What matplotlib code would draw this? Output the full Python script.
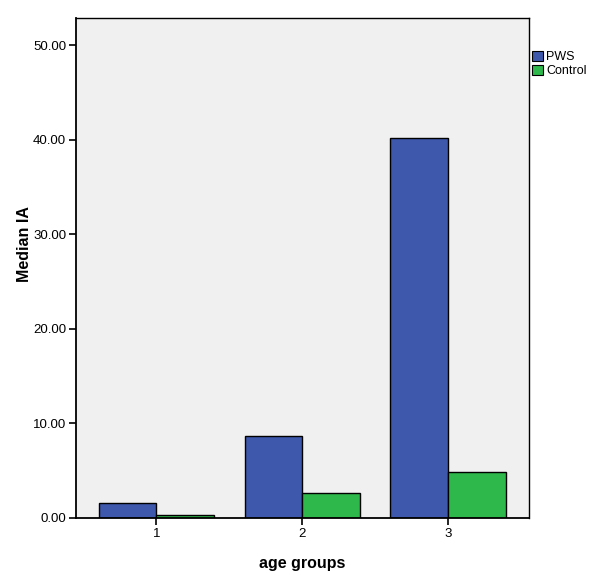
import numpy as np
import matplotlib.pyplot as plt
from matplotlib.patches import Patch

plt.rcParams['font.family'] = ['Liberation Sans', 'DejaVu Sans']

groups = [1, 2, 3]
pws = [1.6, 8.68, 40.25]
control = [0.3, 2.68, 4.87]
series_names = ['PWS', 'Control']

blue = '#3E58AC'
green = '#2EB84B'

fig = plt.figure(figsize=(6, 5.8), dpi=100)
ax = fig.add_axes([0.1267, 0.1069, 0.755, 0.862])
ax.set_facecolor('#F0F0F0')

x = np.array(groups, dtype=float)
w = 0.395
ax.bar(x - w / 2, pws, w, color=blue, edgecolor='black', linewidth=1.0, zorder=2)
ax.bar(x + w / 2, control, w, color=green, edgecolor='black', linewidth=1.0, zorder=2)

ax.set_xlim(0.45, 3.555)
ax.set_ylim(0, 52.9)
ax.set_xticks(x)
ax.set_xticklabels([str(g) for g in groups], fontsize=9.5)
ax.set_yticks(np.arange(0, 51, 10))
ax.set_yticklabels(['%.2f' % v for v in np.arange(0, 51, 10)], fontsize=9.5)
ax.tick_params(direction='out', length=5, width=1.2, colors='black', pad=2)

for s in ax.spines.values():
    s.set_linewidth(1.0)
ax.spines['left'].set_linewidth(1.3)
ax.spines['bottom'].set_linewidth(1.3)

ax.set_ylabel('Median IA', fontsize=11.5, fontweight='bold')
ax.yaxis.set_label_coords(-0.097, 0.548)
ax.set_xlabel('age groups', fontsize=11.5, fontweight='bold', labelpad=12)

handles = [Patch(facecolor=blue, edgecolor='black', linewidth=0.8),
           Patch(facecolor=green, edgecolor='black', linewidth=0.8)]
fig.legend(handles, series_names, loc='upper left', bbox_to_anchor=(0.884, 0.915),
           frameon=False, fontsize=9, handlelength=0.9, handleheight=0.9,
           handletextpad=0.25, labelspacing=0.15, borderaxespad=0, borderpad=0.1)

fig.savefig('out.png', dpi=100)
